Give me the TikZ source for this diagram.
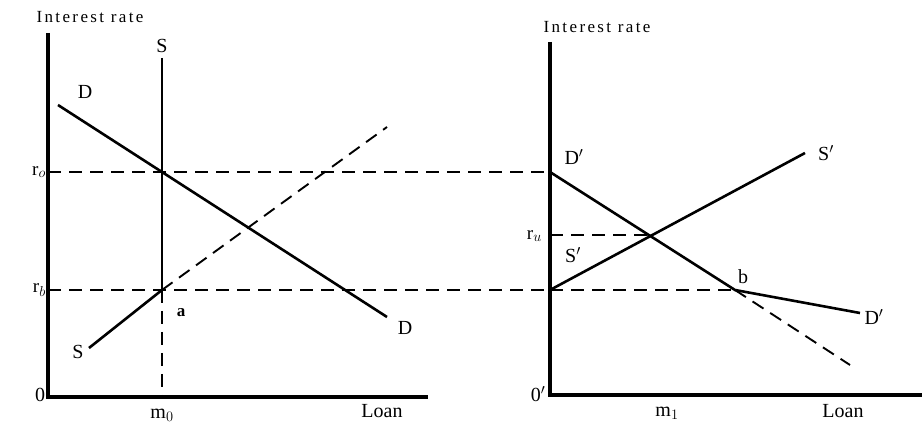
\documentclass[tikz,border=0pt]{standalone}
\usepackage{fontspec}
\setmainfont{Liberation Serif}
\begin{document}
\begin{tikzpicture}[x=1pt,y=-1pt,
  axis/.style={line width=3.4pt, line join=miter},
  curve/.style={line width=2.6pt},
  guide/.style={line width=1.9pt, dash pattern=on 13pt off 8pt},
  lbl/.style={font=\fontsize{20}{22}\selectfont, inner sep=0pt},
  small/.style={font=\fontsize{19}{21}\selectfont, inner sep=0pt},
  ttl/.style={font=\fontsize{17}{19}\selectfont\addfontfeatures{LetterSpace=14}, inner sep=0pt}]
\useasboundingbox (0,0) rectangle (922,427);
% ---------- key points, left panel ----------
\coordinate (O1) at (48,397);
\coordinate (Y1) at (48,33);
\coordinate (X1) at (428,397);
\coordinate (R0) at (48,172);
\coordinate (RB) at (48,290);
\coordinate (Stop) at (162,58);
\coordinate (E0) at (162,172);
\coordinate (A) at (162,290);
\coordinate (M0) at (162,397);
\coordinate (Dl) at (58,105);
\coordinate (Dr) at (387,317);
\coordinate (Sl) at (89,348);
\coordinate (Sd) at (387,127);
% ---------- key points, right panel ----------
\coordinate (O2) at (550,395);
\coordinate (Y2) at (550,42);
\coordinate (X2) at (922,395);
\coordinate (Dp) at (550,172);
\coordinate (Sp) at (550,290);
\coordinate (B) at (735,290);
\coordinate (Dpe) at (860,313);
\coordinate (Dpd) at (850,365);
\coordinate (Spe) at (805,153);
\coordinate (RU) at (550,235);
\coordinate (U) at (652,235);
% ---------- axes ----------
\draw[axis] (Y1) -- (O1) -- (X1);
\draw[axis] (Y2) -- (O2) -- (X2);
% ---------- guides ----------
\draw[guide] (R0) -- (Dp);
\draw[guide] (RB) -- (Sp);
\draw[guide] (Sp) -- (B);
\draw[guide] (A) -- (M0);
\draw[guide] (A) -- (Sd);
\draw[guide] (RU) -- (U);
\draw[guide] (B) -- (Dpd);
% ---------- curves ----------
\draw[curve] (Stop) -- (A);
\draw[curve] (Sl) -- (A);
\draw[curve] (Dl) -- (Dr);
\draw[curve] (Dp) -- (B) -- (Dpe);
\draw[curve] (Sp) -- (Spe);
% ---------- labels, left ----------
\node[ttl] (t1) at (90,17) {Interest rate};
\node[lbl] (lS1) at (162,46) {S};
\node[lbl] (lD1) at (85,92) {D};
\node[small, anchor=east] (lr0) at (46,172) {r$_o$};
\node[small, anchor=east] (lrb) at (46,290) {r$_b$};
\node[small, font=\fontsize{17}{19}\selectfont\bfseries] (la) at (181,313) {a};
\node[lbl] (lD2) at (405,328) {D};
\node[lbl] (lS2) at (78,352) {S};
\node[lbl] (l01) at (40,395) {0};
\node[lbl] (lm0) at (162,415) {m$_0$};
\node[lbl] (lL1) at (382,411) {Loan};
% ---------- labels, right ----------
\node[ttl] (t2) at (597,27) {Interest rate};
\node[lbl] (lDp1) at (574,157) {D$'$};
\node[lbl] (lSp1) at (826,153) {S$'$};
\node[small, anchor=east] (lru) at (542,236) {r$_u$};
\node[lbl] (lSp2) at (573,255) {S$'$};
\node[lbl] (lb) at (743,277) {b};
\node[lbl] (lDp2) at (874,317) {D$'$};
\node[lbl] (l02) at (538,394) {0$'$};
\node[lbl] (lm1) at (667,413) {m$_1$};
\node[lbl] (lL2) at (843,411) {Loan};
\end{tikzpicture}
\end{document}
